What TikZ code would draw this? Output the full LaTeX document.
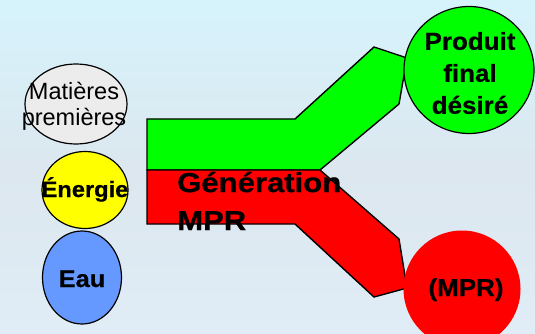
\documentclass[tikz,border=0pt]{standalone}
\usepackage{fontspec}
\setmainfont{Liberation Sans}
\newfontfamily\wfont[FakeStretch=1.06, FakeBold=0.6]{Liberation Sans Bold}
\newfontfamily\genfont[FakeStretch=1.13, FakeBold=0.6]{Liberation Sans Bold}
\usetikzlibrary{shapes.geometric}
\definecolor{bgtop}{RGB}{214,243,252}
\definecolor{bgmid}{RGB}{220,231,239}
\definecolor{bgbot}{RGB}{224,237,246}
\definecolor{vert}{RGB}{0,255,0}
\definecolor{rouge}{RGB}{255,0,0}
\definecolor{jaune}{RGB}{255,255,0}
\definecolor{bleu}{RGB}{102,153,255}
\definecolor{gris}{RGB}{236,236,236}
\tikzset{
  band/.style={draw=black, line width=1.4pt, line join=miter},
  bubble/.style={ellipse, draw=black, line width=1.2pt, inner sep=0pt},
  txt/.style={inner sep=0pt, text=black, align=center},
}
\begin{document}
\begin{tikzpicture}[x=1pt,y=-1pt]
\useasboundingbox (0,0) rectangle (535,334);
\shade[top color=bgtop, bottom color=bgmid] (0,0) rectangle (535,170);
\shade[top color=bgmid, bottom color=bgbot] (0,170) rectangle (535,334);
% bands
\draw[band, fill=vert] (147,119) -- (295,119) -- (374,47) -- (407,58) -- (399,104) -- (320,170) -- (147,170) -- cycle;
\draw[band, fill=rouge] (147,170) -- (320,170) -- (399,239) -- (407,288) -- (374,297) -- (295,224) -- (147,224) -- cycle;
% inputs
\node[bubble, fill=gris, minimum width=102pt, minimum height=80pt] (mat) at (76,104) {};
\node[txt, font=\fontsize{23.5}{26}\selectfont] (matt) at (74,106) {Matières\\premières};
\node[bubble, fill=jaune, minimum width=86pt, minimum height=77pt] (ene) at (85,190) {};
\node[txt, anchor=base, font=\wfont\fontsize{22.3}{26}\selectfont] (enet) at (85,197) {Énergie};
\node[bubble, fill=bleu, minimum width=79pt, minimum height=93pt] (eau) at (82,277.5) {};
\node[txt, anchor=base, font=\wfont\fontsize{24}{28}\selectfont] (eaut) at (82,287) {Eau};
% outputs
\node[bubble, fill=vert, minimum width=130pt, minimum height=127pt] (prod) at (469,70) {};
\node[txt, font=\wfont\fontsize{24.5}{32}\selectfont] (prodt) at (470,73) {Produit\\final\\désiré};
\node[bubble, draw=none, fill=rouge, minimum width=117pt, minimum height=117pt] (mpr) at (462,289) {};
\node[txt, anchor=base, font=\wfont\fontsize{24.5}{28}\selectfont] (mprt) at (466,296) {(MPR)};
% label
\node[txt, align=left, anchor=west, font=\genfont\fontsize{27.5}{38}\selectfont] (gen) at (177,201) {Génération\\MPR};
\end{tikzpicture}
\end{document}
